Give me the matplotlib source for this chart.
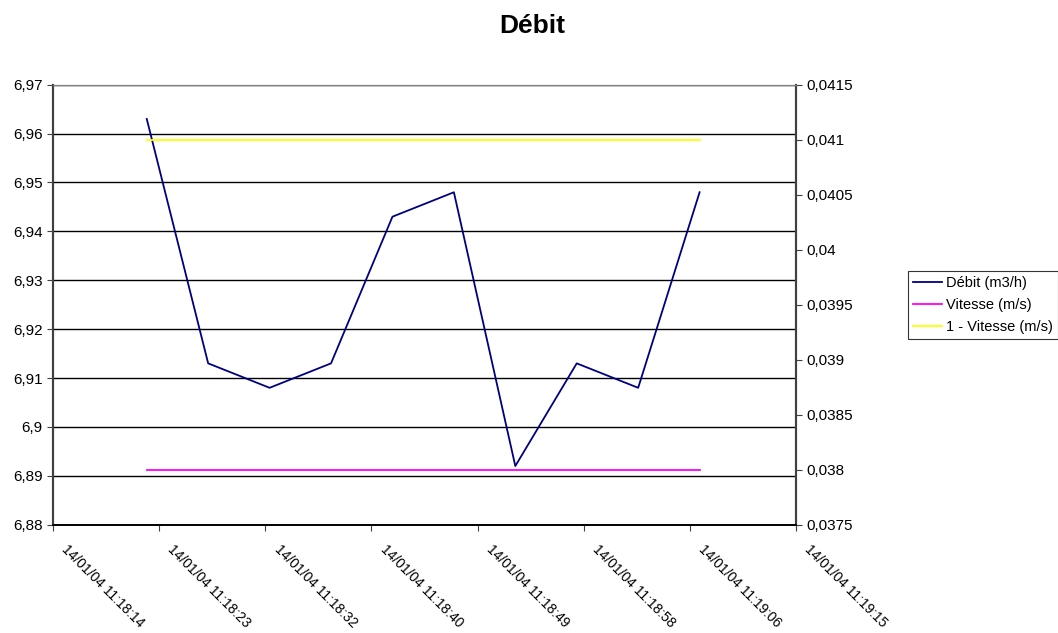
import matplotlib
matplotlib.use('Agg')
import matplotlib.pyplot as plt
import matplotlib.transforms as mtransforms
from matplotlib.ticker import FuncFormatter, MultipleLocator

plt.rcParams['font.family'] = ['Liberation Sans', 'DejaVu Sans']

# time in seconds after 11:18:00 on 14/01/04
temps = [22, 27, 32, 37, 42, 47, 52, 57, 62, 67]
debit = [6.963, 6.913, 6.908, 6.913, 6.943, 6.948, 6.892, 6.913, 6.908, 6.948]
vitesse = [0.038] * 10
un_moins_vitesse = [0.041] * 10

# x axis: Excel time scale, major unit 0.0001 day
x_min = 14.37
x_step = 8.64
x_labels = ['14/01/04 11:18:14', '14/01/04 11:18:23', '14/01/04 11:18:32',
            '14/01/04 11:18:40', '14/01/04 11:18:49', '14/01/04 11:18:58',
            '14/01/04 11:19:06', '14/01/04 11:19:15']


def virgule(v, pos):
    return ('%g' % round(v, 6)).replace('.', ',')


fig = plt.figure(figsize=(10.58, 6.33), dpi=100)
ax = fig.add_axes([0.0501, 0.1711, 0.7023, 0.6951])
ax2 = ax.twinx()

l1, = ax.plot(temps, debit, color='#000080', lw=1.3, label='Débit (m3/h)')
l2, = ax2.plot(temps, vitesse, color='#ff00ff', lw=1.3, label='Vitesse (m/s)')
l3, = ax2.plot(temps, un_moins_vitesse, color='#ffff00', lw=1.3,
               label='1 - Vitesse (m/s)')

ticks_x = [x_min + i * x_step for i in range(len(x_labels))]
ax.set_xlim(ticks_x[0], ticks_x[-1])
ax.set_xticks(ticks_x)
ax.set_xticklabels([])

# rotated date labels, shifted to the right of their tick like Excel does
decal = mtransforms.ScaledTranslation(16 / 100, -18 / 100, fig.dpi_scale_trans)
for xt, lab in zip(ticks_x, x_labels):
    ax.text(xt, 0, lab, rotation=-45, ha='left', va='top',
            rotation_mode='anchor', fontsize=10,
            transform=ax.get_xaxis_transform() + decal)

ax.set_ylim(6.88, 6.97)
ax.yaxis.set_major_locator(MultipleLocator(0.01))
ax.yaxis.set_major_formatter(FuncFormatter(virgule))
ax2.set_ylim(0.0375, 0.0415)
ax2.yaxis.set_major_locator(MultipleLocator(0.0005))
ax2.yaxis.set_major_formatter(FuncFormatter(virgule))

ax.grid(axis='y', color='black', lw=1.0)
ax.set_axisbelow(True)

ax.tick_params(axis='both', direction='out', length=4, labelsize=11, color='#404040')
ax2.tick_params(axis='y', direction='out', length=4, labelsize=11, color='#404040')

for a in (ax, ax2):
    a.spines['top'].set_color('#808080')
    a.spines['left'].set_color('#404040')
    a.spines['left'].set_linewidth(1.5)
    a.spines['right'].set_color('#404040')
    a.spines['right'].set_linewidth(1.5)
    a.spines['bottom'].set_color('black')
    a.spines['bottom'].set_linewidth(1.2)

fig.text(0.503, 0.9479, 'Débit', ha='center', va='baseline',
         fontsize=19, fontweight='bold')

leg = fig.legend(handles=[l1, l2, l3], loc='upper left',
                 bbox_to_anchor=(0.8582, 0.5719), fontsize=10.5,
                 frameon=True, fancybox=False, handlelength=2.0,
                 handletextpad=0.25, borderpad=0.35, labelspacing=0.55,
                 borderaxespad=0)
leg.get_frame().set_edgecolor('black')
leg.get_frame().set_linewidth(0.8)

fig.savefig('out.png', dpi=100)
